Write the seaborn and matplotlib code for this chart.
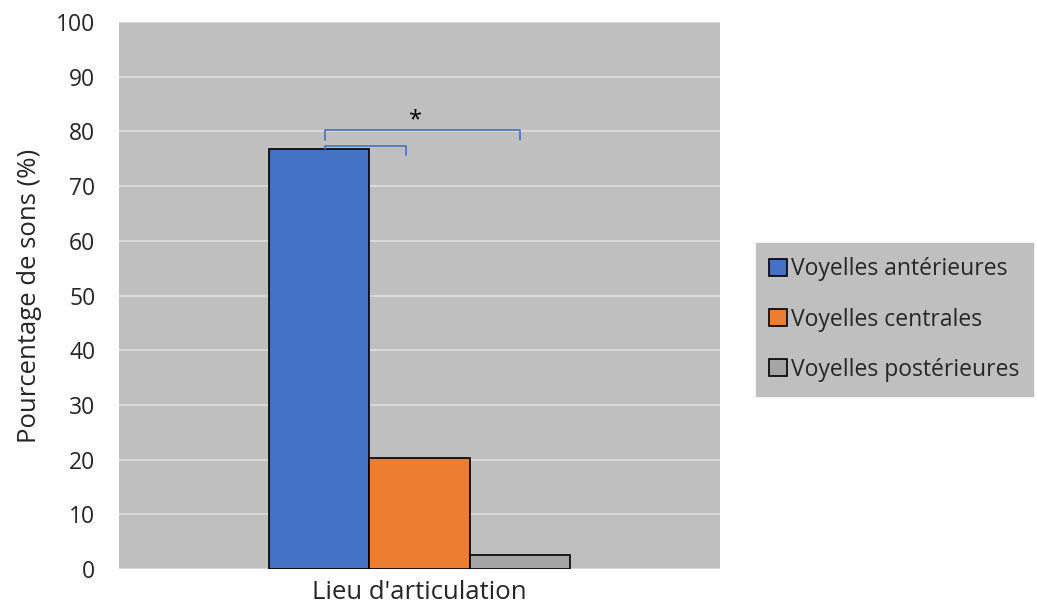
import numpy as np
import pandas as pd
import matplotlib
matplotlib.use("Agg")
import matplotlib.pyplot as plt
import seaborn as sns

category = ["Lieu d'articulation"]
series = ["Voyelles antérieures", "Voyelles centrales", "Voyelles postérieures"]
values = [76.7, 20.3, 2.6]
colors = ["#4472C4", "#ED7D31", "#A5A5A5"]

df = pd.DataFrame({"lieu": category * len(series), "type": series, "pct": values})

sns.set_style("white")
plt.rcParams['font.family'] = ['Open Sans', 'DejaVu Sans']

fig = plt.figure(figsize=(10.37, 6.05), dpi=100)
ax = fig.add_axes([0.1148, 0.0595, 0.5795, 0.9041])
ax.set_facecolor("#BFBFBF")

sns.barplot(data=df, x="lieu", y="pct", hue="type", palette=colors, saturation=1,
            width=0.5, edgecolor="black", linewidth=1.2, ax=ax, legend=True, zorder=3)

ax.set_xlim(-0.5, 0.5)
ax.set_ylim(0, 100)
ax.set_yticks(range(0, 101, 10))
ax.yaxis.grid(True, color="#D9D9D9", linewidth=1.4, zorder=0)
ax.set_axisbelow(True)
for s in ax.spines.values():
    s.set_visible(False)
ax.tick_params(axis="y", length=0, labelsize=16.5, colors="#262626", pad=17)
ax.tick_params(axis="x", length=0, labelsize=18.5, colors="#262626", pad=8)
ax.set_xlabel("")
ax.set_ylabel("Pourcentage de sons (%)", fontsize=18.5, color="#262626", labelpad=10)

# significance brackets based on bar centres
cx = [p.get_x() + p.get_width() / 2 for p in ax.patches[:3]]
bc = "#4472C4"
x0 = cx[0] + 0.009
ax.plot([x0, x0, cx[2], cx[2]], [78.4, 80.3, 80.3, 78.4], color=bc, lw=1.2, zorder=4)
ax.plot([x0, x0, cx[1] - 0.023, cx[1] - 0.023], [values[0], 77.4, 77.4, 75.6], color=bc, lw=1.2, zorder=4)
ax.text(cx[1] - 0.006, 82.0, "*", ha="center", va="center", fontsize=17, color="black", zorder=5)

h, l = ax.get_legend_handles_labels()
ax.legend_.remove()
leg = fig.legend(h, l, loc="center", bbox_to_anchor=(0.8626, 0.4719), fontsize=16.5,
                 frameon=True, facecolor="#BFBFBF", edgecolor="#BFBFBF", fancybox=False,
                 handlelength=0.75, handleheight=0.75, handletextpad=0.2,
                 labelspacing=1.15, borderpad=0.6, borderaxespad=0, labelcolor="#262626")
leg.get_frame().set_alpha(1)

fig.savefig("out.png", dpi=100)
